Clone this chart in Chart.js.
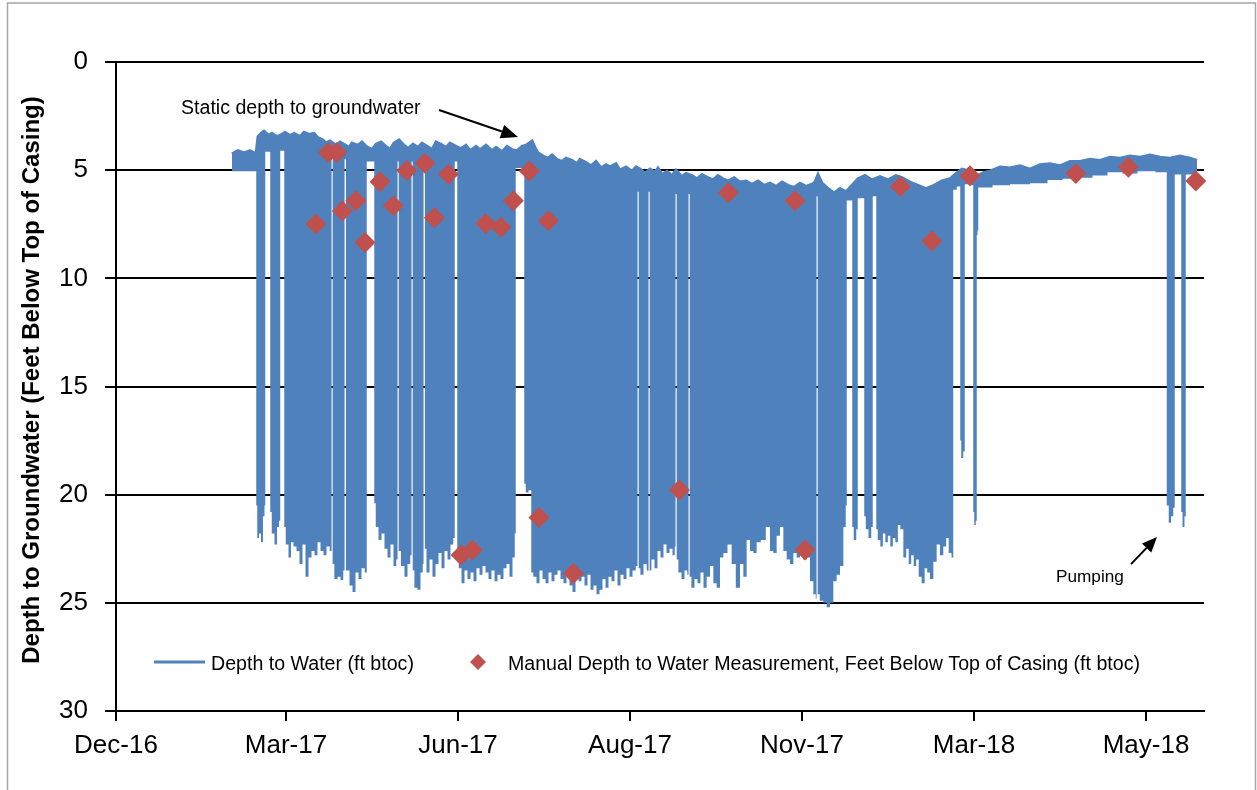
<!DOCTYPE html>
<html>
<head>
<meta charset="utf-8">
<script src="https://cdn.jsdelivr.net/npm/chart.js@4.4.1/dist/chart.umd.min.js"></script>
<style>
html,body{margin:0;padding:0;background:#fff;}
canvas{display:block;}
</style>
</head>
<body>
<canvas id="c" width="1257" height="790"></canvas>
<script>
// ---------------- DATA ----------------
// x values are days counted from the "Dec-16" tick
const tickDays = [0, 85, 171, 257, 343, 429, 515];
const tickLabels = ['Dec-16', 'Mar-17', 'Jun-17', 'Aug-17', 'Nov-17', 'Mar-18', 'May-18'];
const depthTicks = [0, 5, 10, 15, 20, 25, 30];
const yTitle = 'Depth to Groundwater (Feet Below Top of Casing)';

// shallow (upper) edge of the logged depth-to-water trace [day, ft btoc]
const topEdge = [
[58,4.25],[61,4.1],[64,4.2],[67,4.1],[70,4.25],
[71,3.45],[72.5,3.3],[74,3.2],[76.5,3.4],[78,3.3],[80.5,3.45],[83,3.35],[84.5,3.25],[87,3.4],[89,3.3],
[92,3.45],[94,3.25],[96.5,3.35],[99,3.3],[101,3.5],[103.5,3.6],[105,3.75],[107,3.65],[110,3.85],[112,3.7],
[114,3.8],[116.5,3.95],[118,3.75],[121,3.85],[123,3.7],[125,3.9],[128,4.05],[130,3.8],[132.5,3.7],[135,3.9],
[137,4.05],[139,3.75],[141.5,3.6],[144,3.85],[146,4.0],[148.5,3.8],[151,3.95],[153,3.75],[155.5,3.9],[158,4.05],
[160,3.7],[162.5,3.8],[165,3.95],[167,3.75],[170,3.9],[172.5,4.0],[175,3.85],[177,4.1],[180,3.9],[182,4.05],
[185,3.85],[188,4.1],[190,3.95],[193,4.15],[195.5,3.9],[198,4.05],[200.5,4.1],[203,3.9],[205,3.85],[206.5,3.75],
[208,3.65],[209.5,3.95],[211,4.2],[213.5,4.35],[216,4.45],[218,4.3],[220.5,4.5],[223,4.6],[225,4.45],[228,4.55],
[230.5,4.7],[232,4.5],[235,4.65],[237.5,4.8],[240,4.6],[242.5,4.9],[245,4.75],[247,4.85],[250,4.7],[252,5.0],
[255,4.85],[258,5.05],[260,4.85],[262,4.95],[264.5,5.15],[267,4.95],[269.5,5.1],[271,4.9],[273,5.2],[275.5,5.05],
[278,5.25],[280,5.0],[283,5.3],[285,5.15],[288,5.25],[290.5,5.4],[293,5.2],[296,5.35],[298.5,5.45],[301,5.25],
[303.5,5.4],[306,5.5],[309,5.35],[312,5.55],[315,5.5],[318,5.65],[321,5.5],[324,5.7],[327,5.6],[330,5.75],
[333,5.55],[336,5.7],[339,5.8],[342,5.6],[345,5.75],[348,5.65],[349.5,5.55],
[351,5.2],[353,5.6],[356,5.85],[359,6.05],[362,5.85],[365,6.0],[368,5.7],[371,5.4],[374.5,5.25],[378,5.45],
[382,5.3],[386,5.45],[390,5.25],[393,5.35],[397,5.55],[401,5.7],[405,5.85],[409,5.7],[413,5.5],[417,5.4],
[419.5,5.2],[423,4.95],[427,5.05],[431,5.25],[434,5.1],[437,5.05],[442,4.85],[447,4.9],[452,4.8],[457,4.95],
[462,4.75],[467,4.7],[472,4.8],[477,4.6],[482,4.6],[487,4.5],[492,4.55],[497,4.4],[502,4.45],[507,4.35],
[512,4.4],[517,4.3],[522,4.4],[527,4.45],[532,4.35],[537,4.45],[540.5,4.55]
];

// deep (lower) edge of the logged depth-to-water trace [day, ft btoc]
const bottomEdge = [
[58,5.05],[70,5.05],
[70.25,20.5],[71,22.0],[72,21.8],[73,22.2],[74,21.0],[74.5,20.5],
[74.75,4.15],[77,4.15],
[77.25,20.8],[78.5,21.8],[80,22.3],[81,21.5],[82,21.2],
[82.25,4.1],[84,4.1],
[84.25,21.5],[85.5,22.3],[87,22.9],[88,22.2],[89.5,22.4],[91,22.6],[92.5,23.2],[94,22.3],[95.5,23.8],[97,22.9],
[98.5,22.6],[100,22.8],[101.5,22.2],[103,22.6],[104.5,22.8],[106,22.4],[107.75,22.6],
[107.8,4.4],[108.3,4.4],
[108.35,23.2],[110,23.9],[111.5,23.8],[113,23.95],[114.25,23.5],
[114.3,4.5],[114.9,4.5],
[115,23.5],[116,23.5],[117.5,24.2],[119,24.5],[120.5,23.6],[122,23.9],[123.5,23.4],[125.25,23.6],
[125.5,4.6],[129,4.6],
[129.25,20.4],[130.5,21.5],[132,22.1],[133.5,21.8],[135,22.5],[136.5,22.9],[138,22.3],[139.5,23.3],[140.75,23.0],
[140.8,4.6],[141.3,4.6],
[141.4,22.6],[143.5,23.3],[145,23.8],[146.5,23.2],[147.75,22.8],
[147.8,4.6],[148.3,4.6],
[148.4,23.5],[150,24.3],[151.5,24.4],[153,23.6],[153.75,23.2],
[153.8,4.6],[154.4,4.6],
[154.5,22.5],[156,23.6],[157.5,23.0],[159,23.8],[160.5,23.2],[162,22.7],[163.5,23.4],[165,22.6],[166.5,23.0],
[168,22.3],[169.25,22.0],
[169.5,4.6],[170.5,4.6],
[170.75,22.5],[172,23.4],[173.5,24.1],[175,23.5],[176.5,23.9],[178,23.6],[179.5,24.0],[181,23.4],[182.5,23.7],
[184,23.3],[185.5,23.6],[187,23.9],[188.5,23.5],[190,24.0],[191.5,23.7],[193,23.9],[194.5,23.4],[196,23.2],
[197.5,23.8],[199,22.9],[199.75,21.8],
[200,4.9],[204,4.9],
[204.25,19.5],[205.5,19.9],[207,19.8],[207.5,19.8],
[207.75,23.6],[209.5,23.8],[211,24.1],[212.5,23.5],[214,23.9],[215.5,24.1],[217,23.6],[218.5,24.0],[220,23.7],
[221.5,23.5],[223,23.9],[224.5,24.1],[226,23.7],[227.5,24.2],[229,24.5],[230.5,23.6],[232,24.0],[233.5,23.8],
[235,24.2],[236.5,23.7],[238,24.4],[239.5,24.2],[241,24.6],[242.5,24.4],[244,23.9],[245.5,24.3],[247,23.8],
[248.5,24.0],[250,23.5],[251.5,24.2],[253,23.7],[254.5,23.9],[256,23.4],[257.5,23.8],[259,23.5],[260.75,23.3],
[260.8,6.0],[261.3,6.0],
[261.4,23.4],[263,23.7],[264.5,23.2],[266.25,23.5],
[266.3,6.0],[266.8,6.0],
[266.9,23.5],[268.5,23.0],[270,23.4],[271.5,22.6],[273,22.9],[274.5,22.3],[276,22.7],[277.5,22.5],[279,22.8],[279.75,22.4],
[279.8,6.1],[280.3,6.1],
[280.4,23.0],[282,23.6],[283.5,23.9],[285,23.5],[286.25,23.7],
[286.3,6.1],[286.8,6.1],
[286.9,23.8],[288.5,24.3],[290,23.9],[291.5,24.1],[293,23.6],[294.5,24.3],[296.15,23.8],[297.85,23.3],[299.5,24.1],
[301.15,24.3],[302.85,22.9],[304.5,22.7],[307,22.3],[308.65,23.2],[311.15,24.3],[312.85,23.2],[314.5,23.8],
[316.15,22.1],[317.85,22.6],[319.5,22.7],[321.15,22.2],[323.65,22.1],[326.15,21.5],[327.85,22.6],[329.5,22.7],
[331.15,21.9],[332.85,21.5],[334.5,22.6],[336.15,23.0],[337.85,23.2],[339.5,22.7],[341.15,22.9],[342.85,22.5],
[344.5,23.0],[346.15,22.9],[347.85,24.0],[349.5,24.6],[350.25,24.8],
[350.3,6.2],[350.8,6.2],
[350.9,24.6],[352.85,24.9],[354.5,25.0],[356.15,25.2],[357.85,25.0],[359.5,24.0],[361.15,23.7],[362.85,23.3],
[364.5,21.5],[365.25,20.5],
[365.5,6.4],[368,6.4],
[368.25,21.5],[369.5,22.1],[370.75,21.6],
[371,6.3],[374,6.3],
[374.25,21.0],[375.5,21.6],[377,22.0],[378.25,21.5],
[378.5,6.2],[380,6.2],
[380.25,21.6],[381.5,22.1],[382.85,22.4],[384,21.8],[385.35,22.2],[386.5,21.9],[387.85,22.4],[389,22.0],
[390.35,22.2],[391.5,21.4],[392.85,21.6],[394.5,22.9],[395.7,22.5],[397,23.2],[398.2,22.8],[399.5,23.3],
[400.7,23.0],[402,23.8],[403.65,24.1],[405,23.4],[406.15,23.6],[407.85,23.9],[409.5,23.1],[411.15,22.3],
[412.8,22.8],[414.5,22.4],[415.7,22.0],[417,22.7],[418.5,22.9],
[418.75,5.9],[422,5.75],
[422.25,17.5],[423,18.3],[424.25,18.0],
[424.5,5.65],[428.5,5.7],
[428.75,20.8],[429.5,21.4],[430.25,21.2],
[430.5,8.0],[431,7.8],
[431.25,5.8],[434.5,5.8],[442,5.7],[452,5.65],[462,5.6],[469.5,5.45],[477,5.4],[484.5,5.35],[492,5.25],
[499.5,5.1],[507,5.15],[514.5,5.05],[525,5.1],
[525.75,20.5],[527,21.3],[528,21.0],[529.25,20.6],
[529.5,5.2],[532.5,5.2],
[532.75,20.8],[533.75,21.5],[534.75,21.0],
[535,5.2],[540.5,5.2]
];

// manual measurements
const manualDays  = [99.9, 106.2, 110.4, 113.2, 119.9, 124.5, 132, 138.7, 145.4, 154.5, 159.2, 166.2, 172.5, 178.2, 184.9, 192.5,
                     198.7, 206.7, 211.5, 216.2, 228.7, 281.7, 306.2, 339.5, 344.5, 392.2, 407.9, 427, 479.9, 506.2, 539.9];
const manualDepth = [7.49, 4.18, 4.18, 6.89, 6.41, 8.34, 5.53, 6.64, 5.02, 4.68, 7.2, 5.19, 22.79, 22.56, 7.46, 7.64,
                     6.41, 5.04, 21.05, 7.34, 23.64, 19.79, 6.04, 6.41, 22.56, 5.76, 8.28, 5.26, 5.15, 4.87, 5.5];

// ---------------- STYLE ----------------
const BLUE = '#4F81BD';
const RED = '#C0504D';
const FAM = "'Liberation Sans', Arial, Helvetica, sans-serif";
const SZ = { tick: 26, legend: 19.6, note: 19.6, pump: 17.2, title: 24 };

const notes = [
  { text: 'Static depth to groundwater', at: [32.5, 2.40], size: SZ.note, from: [161.5, 2.22], to: [201, 3.47], head: [17, 7] },
  { text: 'Pumping', at: [470, 24.06], size: SZ.pump, from: [507.5, 23.21], to: [520.5, 21.96], head: [15, 6.5] }
];

// ---------------- PLUGINS ----------------
const frame = {
  id: 'frame',
  beforeDraw(chart) {
    const c = chart.ctx;
    c.save();
    c.fillStyle = '#fff';
    c.fillRect(0, 0, chart.width, chart.height);
    c.strokeStyle = '#a6a6a6';
    c.lineWidth = 1.5;
    c.strokeRect(7.5, 3, 1248, 820);
    c.restore();
  }
};

function arrow(c, x1, y1, x2, y2, len, half) {
  const a = Math.atan2(y2 - y1, x2 - x1);
  const bx = x2 - len * Math.cos(a), by = y2 - len * Math.sin(a);
  c.beginPath(); c.moveTo(x1, y1); c.lineTo(bx, by); c.stroke();
  c.beginPath();
  c.moveTo(x2, y2);
  c.lineTo(bx + half * Math.sin(a), by - half * Math.cos(a));
  c.lineTo(bx - half * Math.sin(a), by + half * Math.cos(a));
  c.closePath(); c.fill();
}

const annotations = {
  id: 'annotations',
  afterDraw(chart) {
    const c = chart.ctx, xs = chart.scales.x, ys = chart.scales.y;
    c.save();
    c.fillStyle = '#000'; c.strokeStyle = '#000'; c.lineWidth = 2;
    c.textAlign = 'left'; c.textBaseline = 'alphabetic';
    notes.forEach(n => {
      c.font = n.size + 'px ' + FAM;
      c.fillText(n.text, xs.getPixelForValue(n.at[0]), ys.getPixelForValue(n.at[1]));
      arrow(c, xs.getPixelForValue(n.from[0]), ys.getPixelForValue(n.from[1]),
               xs.getPixelForValue(n.to[0]), ys.getPixelForValue(n.to[1]), n.head[0], n.head[1]);
    });
    // y-axis title
    c.save();
    c.translate(38.5, 380);
    c.rotate(-Math.PI / 2);
    c.textAlign = 'center';
    c.font = 'bold ' + SZ.title + 'px ' + FAM;
    c.fillText(yTitle, 0, 0);
    c.restore();
    c.restore();
  }
};

const legendBox = {
  id: 'legendBox',
  afterDraw(chart) {
    const c = chart.ctx, ds = chart.data.datasets;
    const y = 662;
    c.save();
    c.font = SZ.legend + 'px ' + FAM;
    c.textAlign = 'left'; c.textBaseline = 'alphabetic';
    c.strokeStyle = ds[0].borderColor; c.lineWidth = 3;
    c.beginPath(); c.moveTo(154, y); c.lineTo(205, y); c.stroke();
    c.fillStyle = '#000';
    c.fillText(ds[0].label, 211, y + 8);
    c.fillStyle = ds[2].pointBackgroundColor;
    c.beginPath(); c.moveTo(470, y); c.lineTo(478, y - 8); c.lineTo(486, y); c.lineTo(478, y + 8); c.closePath(); c.fill();
    c.fillStyle = '#000';
    c.fillText(ds[2].label, 508, y + 8);
    c.restore();
  }
};

// ---------------- CHART ----------------
new Chart(document.getElementById('c'), {
  type: 'line',
  data: {
    datasets: [
      {
        label: 'Depth to Water (ft btoc)',
        data: topEdge.map(p => ({ x: p[0], y: p[1] })),
        borderColor: BLUE, borderWidth: 3, pointRadius: 0, fill: false, tension: 0, order: 1
      },
      {
        label: 'Depth to Water (deep edge)',
        data: bottomEdge.map(p => ({ x: p[0], y: p[1] })),
        borderColor: 'rgba(0,0,0,0)', borderWidth: 1, pointRadius: 0, tension: 0, stepped: 'middle',
        fill: '-1', backgroundColor: BLUE, order: 2
      },
      {
        label: 'Manual Depth to Water Measurement, Feet Below Top of Casing (ft btoc)',
        data: manualDays.map((d, i) => ({ x: d, y: manualDepth[i] })),
        showLine: false, pointStyle: 'rectRot', pointRadius: 10.5, pointHoverRadius: 10.5,
        pointBackgroundColor: RED, pointBorderColor: RED, pointBorderWidth: 0,
        borderColor: RED, backgroundColor: RED, clip: false, order: 0
      }
    ]
  },
  options: {
    responsive: false,
    animation: false,
    devicePixelRatio: 1,
    events: [],
    layout: { padding: { left: 0, right: 53, top: 62, bottom: 0 } },
    plugins: { legend: { display: false }, tooltip: { enabled: false } },
    scales: {
      x: {
        type: 'linear', min: 0, max: 544,
        afterBuildTicks: s => { s.ticks = tickDays.map(v => ({ value: v })); },
        afterFit: s => { s.height = 79; },
        ticks: {
          autoSkip: false, maxRotation: 0, minRotation: 0, padding: 9, color: '#000',
          font: { family: FAM, size: SZ.tick },
          callback: (v, i) => tickLabels[i]
        },
        grid: { drawOnChartArea: false, drawTicks: true, tickLength: 10, color: '#000', lineWidth: 2 },
        border: { display: true, color: '#000', width: 2 }
      },
      y: {
        type: 'linear', reverse: true, min: 0, max: 30,
        afterBuildTicks: s => { s.ticks = depthTicks.map(v => ({ value: v })); },
        afterFit: s => { s.width = 116; },
        ticks: { padding: 17, color: '#000', font: { family: FAM, size: SZ.tick }, callback: v => String(v) },
        grid: { color: '#000', lineWidth: 2, drawTicks: true, tickLength: 11 },
        border: { display: true, color: '#000', width: 2 },
        title: { display: false }
      }
    }
  },
  plugins: [frame, annotations, legendBox]
});
</script>
</body>
</html>
